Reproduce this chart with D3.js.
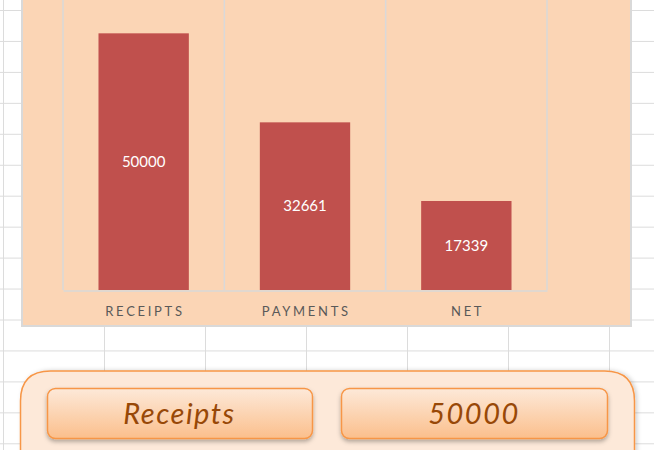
<!DOCTYPE html>
<html>
<head>
<meta charset="utf-8">
<script src="https://cdn.jsdelivr.net/npm/d3@7"></script>
<style>
  body { margin: 0; background: #fff; }
  svg { display: block; }
</style>
</head>
<body>
<div id="chart"></div>
<script>
// chart data
var categories = ["RECEIPTS", "PAYMENTS", "NET"];
var values = [50000, 32661, 17339];
var panelLabel = "Receipts";
var panelValue = 50000;

var svgWidth = 654;
var svgHeight = 450;

var svg = d3.select("#chart")
  .append("svg")
  .attr("width", svgWidth)
  .attr("height", svgHeight);

var defs = svg.append("defs");

// gradient for the two buttons
var grad = defs.append("linearGradient")
  .attr("id", "btnGrad")
  .attr("x1", 0).attr("y1", 0).attr("x2", 0).attr("y2", 1);
grad.append("stop").attr("offset", "0%").attr("stop-color", "#fde9d9");
grad.append("stop").attr("offset", "100%").attr("stop-color", "#fbbf8c");

var shadow = defs.append("filter")
  .attr("id", "btnShadow")
  .attr("x", "-10%").attr("y", "-20%").attr("width", "120%").attr("height", "160%");
shadow.append("feDropShadow")
  .attr("dx", 0).attr("dy", 2.5)
  .attr("stdDeviation", 2)
  .attr("flood-color", "#000")
  .attr("flood-opacity", 0.3);

var panelShadow = defs.append("filter")
  .attr("id", "panelShadow")
  .attr("x", "-5%").attr("y", "-10%").attr("width", "110%").attr("height", "130%");
panelShadow.append("feDropShadow")
  .attr("dx", 2).attr("dy", 0)
  .attr("stdDeviation", 2)
  .attr("flood-color", "#000")
  .attr("flood-opacity", 0.18);

// spreadsheet cell grid in the background
var sheet = svg.append("g").attr("class", "sheet");
sheet.selectAll("line.row")
  .data(d3.range(15))
  .enter()
  .append("line")
  .attr("class", "row")
  .attr("x1", 0).attr("x2", svgWidth)
  .attr("y1", d => 10.5 + d * 30.95)
  .attr("y2", d => 10.5 + d * 30.95)
  .attr("stroke", "#dcdcdc")
  .attr("stroke-width", 1);
sheet.selectAll("line.col")
  .data(d3.range(7))
  .enter()
  .append("line")
  .attr("class", "col")
  .attr("y1", 0).attr("y2", svgHeight)
  .attr("x1", d => 3.5 + d * 101)
  .attr("x2", d => 3.5 + d * 101)
  .attr("stroke", "#dcdcdc")
  .attr("stroke-width", 1);

// chart area
svg.append("rect")
  .attr("x", 22)
  .attr("y", -20)
  .attr("width", 609)
  .attr("height", 346)
  .attr("fill", "#fbd5b5")
  .attr("stroke", "#d9d9d9")
  .attr("stroke-width", 2);

// scales
var xScale = d3.scaleBand()
  .domain(categories)
  .range([63, 547])
  .paddingInner(0)
  .paddingOuter(0);

var yScale = d3.scaleLinear()
  .domain([0, 60000])
  .range([290, -18]);

var barWidth = xScale.bandwidth() * 0.56;

var chartGroup = svg.append("g");

// vertical gridlines between categories
var edges = categories.map(c => xScale(c)).concat([xScale.range()[1]]);
chartGroup.selectAll("line.grid")
  .data(edges)
  .enter()
  .append("line")
  .attr("class", "grid")
  .attr("x1", d => d).attr("x2", d => d)
  .attr("y1", yScale(60000)).attr("y2", yScale(0))
  .attr("stroke", "#d9d9d9")
  .attr("stroke-width", 1.5);

// bars
chartGroup.selectAll("rect.bar")
  .data(values)
  .enter()
  .append("rect")
  .attr("class", "bar")
  .attr("x", (d, i) => xScale(categories[i]) + (xScale.bandwidth() - barWidth) / 2)
  .attr("y", d => yScale(d))
  .attr("width", barWidth)
  .attr("height", d => yScale(0) - yScale(d))
  .attr("fill", "#c0504d");

// horizontal axis line
var xAxis = d3.axisBottom(xScale).tickSize(0).tickPadding(16);
var axisG = chartGroup.append("g")
  .attr("transform", `translate(0, ${yScale(0) + 0.5})`)
  .call(xAxis);
axisG.select(".domain")
  .attr("stroke", "#d9d9d9")
  .attr("stroke-width", 1.5);
axisG.selectAll("text")
  .attr("font-family", "Lato, 'Open Sans', sans-serif")
  .attr("font-size", 13)
  .attr("letter-spacing", "2.7px")
  .attr("fill", "#595959")
  .attr("dx", "1.3px");

// value labels in the middle of each bar
chartGroup.selectAll("text.value")
  .data(values)
  .enter()
  .append("text")
  .attr("class", "value")
  .attr("x", (d, i) => xScale(categories[i]) + xScale.bandwidth() / 2)
  .attr("y", d => (yScale(d) + yScale(0)) / 2)
  .attr("dy", "0.35em")
  .attr("text-anchor", "middle")
  .attr("font-family", "Lato, 'Open Sans', sans-serif")
  .attr("font-size", 15)
  .attr("fill", "#ffffff")
  .text(d => d);

// lower panel with rounded top corners
var px0 = 20.5, px1 = 634.5, py0 = 371, r = 30;
svg.append("path")
  .attr("d", `M${px0},${svgHeight + 10} L${px0},${py0 + r} Q${px0},${py0} ${px0 + r},${py0}
    L${px1 - r},${py0} Q${px1},${py0} ${px1},${py0 + r} L${px1},${svgHeight + 10} Z`)
  .attr("fill", "#fde9d9")
  .attr("stroke", "#f79646")
  .attr("stroke-width", 1.5)
  .attr("filter", "url(#panelShadow)");

// the two buttons
var buttons = [
  { x: 47, w: 265, text: panelLabel },
  { x: 341, w: 266, text: panelValue }
];

var btn = svg.selectAll("g.btn")
  .data(buttons)
  .enter()
  .append("g")
  .attr("class", "btn");

btn.append("rect")
  .attr("x", d => d.x + 0.5)
  .attr("y", 388.5)
  .attr("width", d => d.w)
  .attr("height", 50)
  .attr("rx", 8)
  .attr("fill", "url(#btnGrad)")
  .attr("stroke", "#f79646")
  .attr("stroke-width", 1.5)
  .attr("filter", "url(#btnShadow)");

btn.append("text")
  .attr("x", d => d.x + d.w / 2)
  .attr("y", 414)
  .attr("dy", "0.35em")
  .attr("text-anchor", "middle")
  .attr("font-family", "'Segoe Print', 'Comic Sans MS', Lato, sans-serif")
  .attr("font-style", "italic")
  .attr("font-size", 29)
  .attr("letter-spacing", "1.5px")
  .attr("fill", "#984807")
  .text(d => d.text);
</script>
</body>
</html>
